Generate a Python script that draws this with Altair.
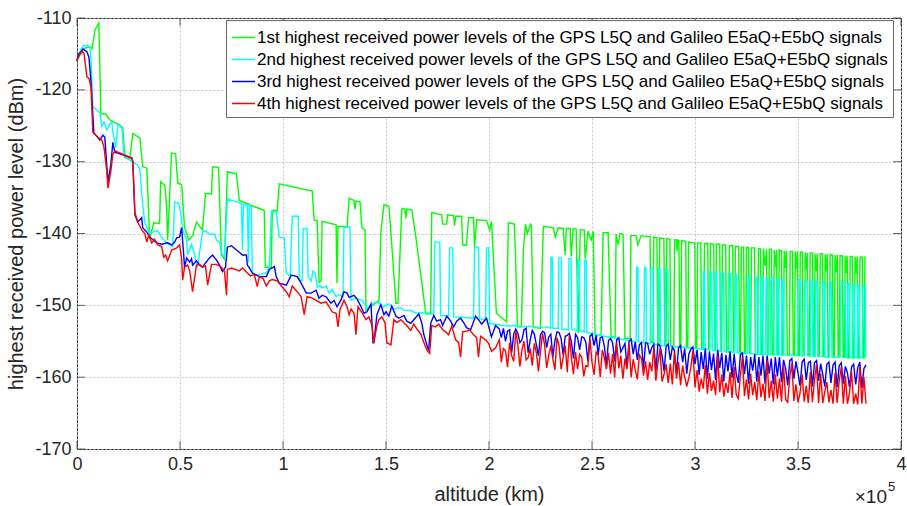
import altair as alt
import pandas as pd

# Series names and line colours
SERIES = [
    "1st highest received power levels of the GPS L5Q and Galileo E5aQ+E5bQ signals",
    "2nd highest received power levels of the GPS L5Q and Galileo E5aQ+E5bQ signals",
    "3rd highest received power levels of the GPS L5Q and Galileo E5aQ+E5bQ signals",
    "4th highest received power levels of the GPS L5Q and Galileo E5aQ+E5bQ signals",
]
COLORS = ["#00ff00", "#00ffff", "#0000ff", "#ff0000"]

X_TICKS = [0, 50000, 100000, 150000, 200000, 250000, 300000, 350000, 400000]
Y_TICKS = [-170, -160, -150, -140, -130, -120, -110]

# (altitude in thousands of km, received power in dBm)
GREEN = [
    (0.0, -116.0), (0.5, -115.4), (2.4, -114.6), (3.9, -114.2), (6.3, -114.0),
    (7.3, -114.3), (8.7, -111.7), (10.6, -110.7), (11.6, -123.3), (14.0, -123.4),
    (16.0, -124.2), (20.8, -124.9), (22.2, -125.3), (23.2, -129.4), (25.6, -129.6),
    (27.1, -126.1), (30.5, -126.7), (31.9, -130.7), (33.9, -130.9), (35.3, -140.8),
    (37.2, -138.5), (40.1, -138.6), (40.6, -132.8), (42.6, -133.3), (43.5, -136.2),
    (44.0, -140.9), (45.9, -128.8), (47.9, -128.9), (48.9, -133.0), (50.8, -133.2),
    (52.2, -139.1), (54.2, -140.9), (56.1, -140.3), (58.0, -138.4), (60.9, -139.5),
    (62.4, -134.4), (65.3, -134.5), (65.8, -130.7), (68.7, -130.8), (70.1, -143.0),
    (71.6, -143.6), (73.0, -131.4), (77.4, -131.7), (78.8, -135.4), (90.9, -136.8),
    (91.4, -144.7), (94.3, -144.7), (94.8, -136.8), (97.2, -136.8), (98.2, -133.1),
    (114.2, -134.1), (115.1, -138.1), (116.6, -138.2), (117.5, -146.8), (118.5, -146.6),
    (119.0, -138.3), (125.8, -138.8), (126.2, -146.9), (126.7, -139.0), (131.1, -139.1),
    (132.1, -135.1), (134.5, -135.4), (135.0, -136.6), (135.4, -135.5), (137.4, -135.6),
    (138.3, -139.2), (139.8, -139.5), (140.3, -150.7), (146.6, -149.3), (147.5, -139.9),
    (149.0, -136.0), (151.4, -136.2), (152.4, -139.9), (154.8, -149.7), (155.8, -149.7),
    (157.2, -139.9), (157.7, -136.5), (159.1, -136.6), (159.6, -137.9), (160.1, -136.6),
    (162.5, -136.7), (164.5, -140.5), (169.3, -151.1), (171.7, -151.1), (172.2, -137.1),
    (177.0, -137.4), (177.5, -138.7), (179.5, -138.7), (179.9, -137.4), (182.8, -137.5),
    (183.3, -138.9), (183.8, -137.6), (186.7, -137.6), (187.2, -141.6), (189.1, -141.6),
    (190.1, -137.8), (192.5, -137.8), (193.0, -141.9), (194.0, -138.1), (198.8, -138.2),
    (200.3, -139.5), (201.2, -138.3), (203.6, -151.1), (208.5, -152.3), (209.4, -138.5),
    (212.3, -138.7), (212.8, -142.3), (213.8, -153.0), (215.7, -153.0), (216.7, -142.3),
    (217.7, -138.7), (218.6, -140.0), (220.1, -138.7), (220.6, -138.9), (221.5, -153.0),
    (224.9, -153.2), (226.4, -139.0), (231.2, -139.2), (232.2, -140.5), (233.6, -139.2),
    (236.0, -139.3), (237.0, -143.0), (237.5, -139.3), (239.4, -139.3), (239.9, -143.2),
    (240.9, -139.3), (242.3, -139.4), (243.3, -153.9), (244.3, -139.5), (246.2, -139.5),
    (246.7, -143.5), (248.1, -139.7), (249.6, -140.9), (250.6, -139.7), (251.5, -154.2),
    (254.4, -154.2), (255.4, -139.9), (257.8, -139.9), (259.3, -154.4), (261.2, -154.4),
    (261.7, -140.1), (262.6, -141.5), (263.6, -140.0), (265.1, -140.1), (266.0, -154.6),
    (268.5, -154.6), (268.9, -140.3), (271.4, -140.3), (272.3, -141.6), (273.8, -140.3),
    (276.2, -140.4), (278.2, -140.4), (278.6, -155.1), (279.6, -155.2), (280.0, -140.5),
    (281.5, -140.6), (281.9, -155.4), (282.5, -155.5), (282.9, -140.6), (284.9, -140.7),
    (285.3, -155.6), (285.9, -155.6), (286.3, -140.7), (287.8, -140.8), (288.2, -155.7),
    (289.7, -155.8), (290.1, -140.9), (291.0, -140.9), (291.3, -142.5), (291.6, -140.9),
    (292.2, -141.0), (292.6, -155.8), (293.1, -155.8), (293.5, -141.0), (295.5, -141.1),
    (295.9, -155.9), (296.5, -155.9), (296.9, -141.2), (299.9, -141.3), (300.3, -156.0),
    (300.9, -156.0), (301.3, -141.3), (302.8, -141.3), (303.2, -156.1), (304.2, -156.1),
    (304.6, -141.4), (306.2, -141.4), (306.6, -156.2), (307.1, -156.2), (307.5, -141.4),
    (309.1, -141.5), (309.5, -156.3), (310.0, -156.3), (310.4, -141.5), (312.0, -141.5),
    (312.4, -156.4), (312.9, -156.4), (313.3, -141.6), (314.9, -141.6), (315.3, -156.5),
    (316.3, -156.5), (316.7, -141.7), (318.3, -141.7), (318.7, -156.6), (319.2, -156.6),
    (319.6, -141.8), (321.2, -141.8), (321.6, -156.6), (322.1, -156.6), (322.5, -141.9),
    (323.6, -141.9), (324.0, -156.7), (324.6, -156.7), (325.0, -141.9), (326.0, -142.0),
    (326.4, -156.7), (327.0, -156.7), (327.4, -142.0), (328.9, -142.0), (329.3, -156.8),
    (330.4, -156.8), (330.8, -142.1), (331.8, -142.1), (332.2, -156.8), (332.8, -156.8),
    (333.2, -142.1), (334.0, -144.5), (334.7, -142.2), (335.1, -156.8), (335.7, -156.8),
    (336.1, -142.2), (337.1, -142.2), (337.5, -156.9), (338.1, -156.9), (338.5, -142.3),
    (339.1, -144.6), (339.6, -142.3), (340.0, -156.9), (340.5, -156.9), (340.9, -142.3),
    (342.0, -142.4), (342.4, -156.9), (342.9, -156.9), (343.3, -142.4), (343.9, -144.8),
    (344.4, -142.4), (344.8, -156.9), (345.8, -156.9), (346.2, -142.5), (347.3, -142.5),
    (347.7, -157.0), (348.3, -157.0), (348.7, -142.5), (349.2, -144.9), (349.7, -142.5),
    (350.1, -157.0), (350.7, -157.0), (351.1, -142.6), (352.1, -142.6), (352.5, -157.0),
    (353.1, -157.0), (353.5, -142.6), (354.0, -145.0), (354.5, -142.7), (354.9, -157.0),
    (355.5, -157.0), (355.9, -142.7), (357.0, -142.7), (357.4, -157.1), (357.9, -157.1),
    (358.3, -142.8), (358.9, -145.2), (359.4, -142.8), (359.8, -157.1), (360.4, -157.1),
    (360.8, -142.8), (361.8, -142.8), (362.2, -157.1), (362.8, -157.1), (363.2, -142.9),
    (363.7, -145.3), (364.2, -142.9), (364.6, -157.2), (365.2, -157.2), (365.6, -142.9),
    (366.7, -143.0), (367.1, -157.2), (367.6, -157.2), (368.0, -143.0), (368.6, -145.4),
    (369.1, -143.0), (369.5, -157.2), (370.0, -157.2), (370.4, -143.1), (371.5, -143.1),
    (371.9, -157.2), (372.5, -157.2), (372.9, -143.1), (373.4, -145.5), (373.9, -143.1),
    (374.3, -157.3), (374.9, -157.3), (375.3, -143.2), (376.3, -143.2), (376.7, -157.3),
    (377.3, -157.3), (377.7, -143.2), (378.2, -145.6), (378.7, -143.2), (379.1, -157.3),
    (379.7, -157.3), (380.1, -143.3), (381.2, -143.3), (381.6, -157.3), (382.1, -157.3),
    (382.5, -143.3), (382.8, -143.3),
]

CYAN = [
    (0.0, -116.0), (0.5, -115.2), (2.9, -113.9), (5.3, -113.8), (6.3, -114.2),
    (6.8, -115.8), (7.7, -122.4), (9.7, -122.8), (11.1, -123.2), (12.1, -125.1),
    (13.1, -124.5), (14.5, -125.6), (16.0, -124.7), (16.9, -124.5), (17.4, -125.9),
    (18.9, -128.0), (19.8, -124.8), (21.8, -125.3), (22.7, -128.8), (23.7, -129.4),
    (25.6, -129.8), (28.1, -130.2), (29.5, -130.5), (30.5, -131.0), (31.4, -134.5),
    (32.9, -138.5), (35.3, -140.0), (37.7, -139.7), (39.2, -139.6), (41.1, -140.5),
    (43.0, -141.2), (45.0, -141.6), (46.5, -141.8), (47.4, -135.6), (49.3, -135.8),
    (50.3, -137.0), (51.3, -139.5), (53.2, -140.9), (53.7, -143.0), (55.6, -141.5),
    (57.1, -143.0), (58.5, -144.7), (60.9, -139.8), (62.4, -139.6), (64.3, -140.1),
    (66.8, -140.1), (67.7, -140.9), (69.2, -141.2), (70.1, -142.7), (71.6, -143.4),
    (73.0, -135.2), (77.4, -135.6), (79.8, -135.8), (80.3, -142.3), (80.8, -136.0),
    (82.7, -136.0), (83.2, -144.0), (83.7, -136.0), (84.6, -136.3), (85.1, -145.5),
    (87.1, -145.8), (91.9, -145.5), (93.4, -144.7), (94.3, -136.9), (96.7, -137.0),
    (98.2, -140.5), (100.6, -140.6), (101.6, -145.5), (103.5, -145.9), (104.5, -137.6),
    (107.4, -137.6), (107.9, -146.5), (109.3, -146.5), (109.8, -139.3), (111.7, -139.3),
    (112.2, -146.0), (113.7, -146.6), (114.6, -145.2), (115.6, -145.5), (116.6, -147.5),
    (118.0, -147.2), (119.0, -147.6), (120.9, -147.3), (122.4, -148.3), (123.8, -147.8),
    (125.8, -148.8), (127.2, -148.5), (128.2, -148.6), (129.1, -148.8), (129.6, -139.1),
    (132.5, -139.1), (133.0, -149.3), (135.4, -149.0), (138.3, -149.3), (140.8, -150.4),
    (144.6, -149.6), (146.6, -149.6), (148.0, -150.3), (151.4, -149.8), (153.8, -150.5),
    (156.7, -150.3), (158.7, -150.7), (162.0, -150.7), (164.5, -151.1), (167.4, -151.0),
    (169.8, -151.2), (173.2, -151.2), (173.7, -141.2), (176.1, -141.2), (176.5, -151.4),
    (180.4, -151.5), (180.9, -142.0), (182.4, -142.0), (182.8, -151.6), (188.1, -151.7),
    (192.5, -151.8), (193.0, -141.9), (194.9, -141.9), (195.4, -151.9), (198.3, -152.0),
    (198.8, -142.0), (199.8, -142.0), (200.3, -152.5), (204.6, -152.7), (208.0, -152.9),
    (212.0, -152.8), (216.0, -153.0), (220.0, -152.9), (224.0, -153.1), (228.0, -153.0),
    (229.8, -153.2), (230.1, -143.3), (230.7, -143.3), (231.0, -153.2), (233.6, -153.2),
    (233.9, -143.4), (235.1, -143.4), (235.4, -153.3), (238.5, -153.4), (238.8, -143.5),
    (239.9, -143.5), (240.2, -153.4), (242.8, -153.5), (243.1, -143.6), (243.8, -143.6),
    (244.1, -153.6), (246.2, -153.7), (246.5, -143.7), (247.2, -143.7), (247.5, -153.8),
    (250.0, -153.9), (254.0, -154.2), (258.0, -154.4), (262.0, -154.6), (266.0, -154.8),
    (271.4, -155.1), (271.7, -144.7), (272.3, -144.7), (272.6, -155.1), (275.2, -155.2),
    (275.5, -144.7), (276.2, -144.8), (276.5, -155.2), (278.2, -155.3), (278.5, -144.8),
    (279.6, -144.8), (279.9, -155.4), (282.0, -155.5), (282.3, -144.8), (283.0, -144.9),
    (283.3, -155.6), (285.4, -155.6), (285.7, -144.9), (286.8, -145.0), (287.1, -155.7),
    (292.0, -155.8), (297.0, -155.9), (303.8, -156.1), (304.1, -145.3), (304.7, -145.3),
    (305.0, -156.1), (307.1, -156.2), (307.4, -145.4), (308.1, -145.4), (308.4, -156.3),
    (309.6, -156.3), (309.9, -145.4), (310.5, -145.4), (310.8, -156.3), (312.5, -156.4),
    (312.8, -145.5), (313.9, -145.5), (314.2, -156.4), (315.9, -156.5), (316.2, -145.6),
    (317.3, -145.6), (317.6, -156.5), (319.2, -156.6), (319.5, -145.7), (320.2, -145.7),
    (320.5, -156.6), (325.5, -156.7), (325.8, -145.9), (326.5, -145.9), (326.8, -156.7),
    (329.4, -156.8), (329.7, -146.1), (330.4, -146.1), (330.7, -156.8), (331.8, -156.8),
    (332.1, -146.1), (332.8, -146.1), (333.1, -156.8), (334.2, -156.8), (334.5, -146.2),
    (335.2, -146.2), (335.5, -156.9), (336.6, -156.9), (336.9, -146.2), (338.1, -146.3),
    (338.4, -156.9), (339.6, -156.9), (339.9, -146.3), (340.5, -146.3), (340.8, -156.9),
    (342.0, -156.9), (342.3, -146.4), (342.9, -146.4), (343.2, -156.9), (349.7, -157.0),
    (350.0, -146.5), (351.2, -146.5), (351.5, -157.0), (353.1, -157.0), (353.4, -146.6),
    (354.5, -146.6), (354.8, -157.0), (356.0, -157.1), (356.3, -146.6), (357.0, -146.6),
    (357.3, -157.1), (358.4, -157.1), (358.7, -146.7), (359.4, -146.7), (359.7, -157.1),
    (361.8, -157.1), (362.1, -146.7), (362.8, -146.7), (363.1, -157.2), (365.2, -157.2),
    (365.5, -146.8), (366.2, -146.8), (366.5, -157.2), (370.5, -157.2), (370.8, -146.9),
    (372.9, -146.9), (373.2, -157.3), (373.9, -157.3), (374.2, -147.0), (374.9, -147.0),
    (375.2, -157.3), (376.3, -157.3), (376.6, -147.1), (377.3, -147.1), (377.6, -157.3),
    (378.7, -157.3), (379.0, -147.2), (379.7, -147.2), (380.0, -157.3), (381.2, -157.3),
    (381.5, -147.3), (382.6, -147.3), (382.8, -157.3),
]

BLUE_NEAR = [
    (0.0, -116.0), (0.5, -115.2), (2.9, -114.3), (4.8, -114.7), (5.8, -115.5),
    (6.8, -118.9), (8.2, -126.0), (9.7, -126.5), (11.1, -127.0), (12.6, -126.3),
    (13.5, -126.6), (15.0, -132.8), (16.4, -130.5), (17.4, -127.3), (18.4, -128.7),
    (19.8, -128.8), (26.6, -129.5), (27.1, -130.0), (28.1, -137.4), (29.5, -138.4),
    (31.4, -137.8), (31.9, -139.2), (33.9, -139.8), (35.3, -140.5), (38.7, -141.3),
    (41.1, -141.5), (44.0, -141.3), (46.0, -141.6), (47.4, -141.2), (48.4, -140.6),
    (49.8, -140.5), (50.8, -139.2), (51.8, -143.0), (52.2, -144.7), (53.2, -143.4),
    (54.7, -144.0), (55.6, -143.5), (56.1, -144.4), (58.0, -143.8), (59.5, -144.4),
    (60.9, -144.7), (62.4, -144.1), (64.3, -143.4), (65.8, -143.0), (67.7, -143.7),
    (69.2, -144.4), (70.6, -145.3), (72.1, -144.7), (73.0, -141.9), (75.0, -141.7),
    (77.4, -142.3), (78.8, -142.6), (80.3, -143.0), (82.2, -143.0), (82.7, -144.4),
    (83.7, -144.8), (85.1, -145.5), (88.5, -146.0), (91.9, -146.0), (93.4, -145.0),
    (94.8, -144.8), (95.8, -144.6), (96.7, -146.0), (98.2, -146.9), (101.6, -147.2),
    (104.0, -145.8), (106.9, -146.0), (108.8, -146.9), (111.3, -148.3), (113.7, -148.3),
    (116.1, -147.9), (117.5, -149.0), (119.0, -148.6), (120.9, -148.8), (123.3, -149.7),
    (124.8, -149.3), (126.2, -150.2), (128.2, -149.2), (129.6, -148.1), (131.1, -148.3),
    (132.1, -148.9), (134.5, -148.6), (135.9, -149.1), (137.9, -150.2), (139.3, -151.1),
    (140.8, -150.9), (142.7, -149.8), (143.7, -155.2), (144.1, -155.2), (145.6, -151.3),
    (147.5, -149.9), (149.0, -151.3), (150.0, -150.9), (151.4, -151.5), (152.8, -150.1),
    (154.8, -151.5), (156.2, -151.8), (158.7, -151.4), (160.1, -152.2), (162.0, -152.5),
    (163.5, -152.0), (165.9, -151.2), (167.4, -152.5), (168.3, -154.0), (169.8, -155.5),
    (170.7, -156.3), (171.7, -152.5), (173.2, -151.4), (174.6, -152.2), (176.5, -152.0),
    (177.5, -152.8), (179.5, -151.5), (181.4, -152.2), (182.8, -153.0), (184.3, -152.2),
    (186.2, -151.8), (187.7, -152.4), (189.1, -153.1), (191.1, -153.4), (193.5, -151.5),
    (194.9, -152.0), (196.4, -152.6), (198.8, -151.8), (201.2, -154.4), (203.2, -152.8),
]

RED_NEAR = [
    (0.0, -116.0), (0.5, -115.6), (2.4, -114.6), (3.4, -114.9), (4.8, -118.2),
    (5.8, -118.4), (6.8, -119.7), (7.7, -125.9), (10.2, -126.6), (12.1, -127.0),
    (13.1, -128.0), (14.5, -131.4), (15.0, -133.7), (16.4, -131.4), (17.4, -129.0),
    (18.4, -128.5), (26.6, -129.5), (27.1, -130.0), (28.1, -137.1), (29.5, -138.4),
    (31.4, -139.5), (32.9, -140.0), (33.9, -141.2), (34.8, -140.2), (36.3, -141.3),
    (37.7, -140.8), (39.2, -141.6), (41.1, -141.8), (42.1, -143.3), (43.0, -143.0),
    (44.0, -143.8), (46.0, -142.3), (48.4, -142.0), (49.8, -141.6), (50.8, -143.5),
    (51.3, -146.5), (52.2, -144.7), (53.7, -144.4), (54.7, -145.2), (56.1, -148.1),
    (58.0, -144.4), (59.5, -144.3), (60.9, -144.7), (62.4, -144.5), (63.4, -147.2),
    (65.3, -144.3), (67.7, -144.3), (70.1, -144.7), (71.6, -145.3), (72.6, -148.6),
    (73.0, -145.0), (75.0, -144.8), (78.8, -145.2), (80.3, -144.8), (82.7, -145.5),
    (84.2, -145.9), (86.1, -145.7), (87.5, -147.4), (88.5, -146.0), (90.4, -146.3),
    (91.9, -147.3), (93.4, -146.6), (94.8, -146.4), (97.2, -146.6), (99.2, -147.3),
    (101.6, -148.1), (103.0, -148.8), (104.5, -147.3), (106.9, -148.1), (108.8, -148.8),
    (110.3, -151.3), (111.7, -148.8), (114.2, -149.0), (116.1, -149.3), (118.5, -149.7),
    (120.9, -149.5), (122.4, -150.2), (123.8, -150.9), (125.8, -151.1), (126.7, -153.0),
    (127.7, -150.5), (128.7, -149.9), (129.6, -149.3), (131.1, -150.2), (132.1, -151.3),
    (133.0, -150.5), (134.5, -151.1), (135.4, -154.1), (136.4, -150.2), (138.3, -151.0),
    (140.3, -152.0), (141.7, -151.6), (143.2, -152.8), (144.1, -155.2), (145.6, -152.8),
    (146.6, -152.0), (148.0, -151.6), (149.5, -152.4), (150.4, -155.2), (152.4, -155.5),
    (153.8, -152.0), (155.3, -152.4), (157.2, -152.0), (159.2, -152.6), (160.1, -152.8),
    (162.0, -153.5), (163.5, -152.6), (165.0, -153.3), (166.9, -154.0), (168.3, -155.1),
    (169.8, -156.2), (171.2, -156.7), (172.2, -152.8), (174.1, -153.0), (175.6, -152.6),
    (177.5, -153.4), (179.0, -153.7), (180.4, -154.1), (181.9, -152.9), (183.8, -154.8),
    (185.3, -155.2), (186.2, -157.2), (187.2, -153.7), (189.1, -153.6), (190.6, -153.4),
    (192.5, -154.1), (194.0, -154.5), (194.9, -157.2), (195.9, -154.3), (198.3, -154.8),
    (199.8, -155.3), (201.2, -156.4), (203.2, -155.9),
]

# Far range: (altitude in thousands of km, 3rd highest dBm, 4th highest dBm)
FAR = [
    (205, -153.3, -154.8), (206, -154.5, -157.9), (207, -153.2, -156.0), (208, -155.0, -156.3),
    (209, -153.6, -158.6), (210, -153.4, -155.2), (211, -156.6, -157.0), (212, -154.0, -157.8),
    (213, -153.3, -153.6), (214, -153.9, -155.5), (215, -155.2, -158.5), (216, -154.8, -156.2),
    (217, -153.4, -155.0), (218, -153.2, -157.6), (219, -156.6, -157.3), (220, -154.8, -156.0),
    (221, -153.5, -158.4), (222, -154.0, -155.3), (223, -155.5, -156.6), (224, -157.0, -159.2),
    (225, -154.1, -156.5), (226, -153.6, -153.9), (227, -153.8, -155.5), (228, -155.9, -158.7),
    (229, -154.4, -157.0), (230, -154.0, -155.6), (231, -157.2, -157.5), (232, -154.9, -159.0),
    (233, -153.7, -154.5), (234, -153.8, -155.6), (235, -154.6, -158.9), (236, -156.9, -157.2),
    (237, -154.3, -155.6), (238, -154.2, -159.3), (239, -153.9, -154.2), (240, -155.1, -157.3),
    (241, -157.4, -159.6), (242, -154.0, -156.5), (243, -154.5, -158.9), (244, -156.2, -156.8),
    (245, -154.4, -157.2), (246, -154.5, -159.9), (247, -155.1, -158.4), (248, -157.8, -158.5),
    (249, -154.3, -154.7), (250, -154.0, -157.9), (251, -155.6, -159.7), (252, -154.2, -156.5),
    (253, -156.9, -157.0), (254, -154.5, -160.0), (255, -154.4, -156.2), (256, -155.7, -157.3),
    (257, -158.4, -158.9), (258, -154.9, -156.6), (259, -154.6, -159.5), (260, -155.2, -156.8),
    (261, -157.8, -160.0), (262, -154.8, -155.2), (263, -154.5, -158.8), (264, -156.5, -157.0),
    (265, -155.9, -160.2), (266, -155.3, -157.4), (267, -158.6, -158.9), (268, -155.0, -155.4),
    (269, -154.7, -160.0), (270, -156.8, -157.5), (271, -155.1, -159.0), (272, -157.6, -160.3),
    (273, -155.5, -156.9), (274, -155.2, -157.4), (275, -158.9, -159.8), (276, -155.2, -157.8),
    (277, -155.3, -160.4), (278, -156.8, -157.9), (279, -155.9, -159.2), (280, -155.4, -155.9),
    (281, -159.1, -160.5), (282, -155.4, -158.0), (283, -155.6, -156.0), (284, -157.0, -160.6),
    (285, -159.2, -159.6), (286, -155.7, -158.2), (287, -155.4, -160.8), (288, -157.6, -158.1),
    (289, -155.8, -161.0), (290, -156.3, -156.5), (291, -159.5, -160.2), (292, -155.9, -157.9),
    (293, -155.6, -161.1), (294, -157.9, -158.4), (295, -156.0, -160.0), (296, -159.5, -161.3),
    (297, -156.8, -160.1), (298, -156.1, -158.6), (299, -155.8, -156.3), (300, -158.2, -161.4),
    (301, -156.2, -159.0), (302, -159.7, -162.0), (303, -156.5, -160.2), (304, -158.9, -161.6),
    (305, -156.0, -158.3), (306, -160.2, -162.3), (307, -156.4, -159.4), (308, -159.0, -161.9),
    (309, -156.7, -160.5), (310, -160.4, -162.5), (311, -156.2, -157.0), (312, -158.7, -162.1),
    (313, -156.6, -159.6), (314, -160.6, -162.7), (315, -156.9, -160.8), (316, -159.2, -162.2),
    (317, -156.4, -159.3), (318, -160.1, -162.9), (319, -156.8, -158.6), (320, -159.5, -162.4),
    (321, -160.8, -163.0), (322, -156.9, -159.9), (323, -156.6, -157.2), (324, -159.6, -162.6),
    (325, -157.0, -160.3), (326, -160.9, -163.1), (327, -157.2, -159.5), (328, -159.1, -162.5),
    (329, -156.8, -160.7), (330, -160.6, -163.2), (331, -157.2, -159.2), (332, -159.8, -162.8),
    (333, -157.0, -160.9), (334, -160.9, -163.3), (335, -157.0, -157.6), (336, -159.5, -162.9),
    (337, -157.4, -160.5), (338, -161.0, -163.4), (339, -157.2, -159.6), (340, -159.9, -163.0),
    (341, -157.2, -160.2), (342, -160.7, -163.4), (343, -157.6, -158.4), (344, -158.8, -163.1),
    (345, -161.1, -163.5), (346, -157.7, -160.0), (347, -157.4, -158.1), (348, -160.2, -163.3),
    (349, -157.8, -161.0), (350, -159.4, -163.5), (351, -161.2, -162.2), (352, -157.9, -159.6),
    (353, -157.5, -163.4), (354, -160.4, -161.2), (355, -158.0, -163.6), (356, -157.8, -159.3),
    (357, -161.3, -163.5), (358, -158.0, -160.4), (359, -157.7, -158.2), (360, -160.5, -163.6),
    (361, -158.1, -159.5), (362, -159.6, -163.6), (363, -161.3, -162.0), (364, -158.2, -160.7),
    (365, -157.9, -163.5), (366, -160.8, -161.8), (367, -158.3, -163.7), (368, -157.9, -159.4),
    (369, -161.4, -163.6), (370, -158.4, -160.5), (371, -158.0, -158.6), (372, -160.9, -163.7),
    (373, -158.5, -159.8), (374, -159.4, -163.7), (375, -161.4, -162.2), (376, -158.6, -159.2),
    (377, -158.2, -163.7), (378, -161.0, -162.3), (379, -158.7, -163.8), (380, -157.9, -158.6),
    (381, -161.5, -163.7), (382, -158.8, -160.0), (383, -158.3, -163.7),
]

BLUE = BLUE_NEAR + [(a, b) for a, b, _ in FAR]
RED = RED_NEAR + [(a, r) for a, _, r in FAR]

rows = []
for name, pts in zip(SERIES, [GREEN, CYAN, BLUE, RED]):
    for i, (a, p) in enumerate(pts):
        rows.append({"series": name, "alt": a * 1000.0, "dbm": p, "seq": i})
df = pd.DataFrame(rows)

FONT = "Liberation Sans"
INK = "#262626"

x_scale = alt.Scale(domain=[0, 400000], nice=False, zero=False)
y_scale = alt.Scale(domain=[-170, -110], nice=False, zero=False)

x_axis = alt.Axis(
    values=X_TICKS, labelExpr="datum.value / 100000", labelFlush=False,
    labelOverlap=False, labelPadding=6, title="altitude (km)", titlePadding=11,
)
y_axis = alt.Axis(
    values=Y_TICKS, labelExpr="'' + datum.value", labelOverlap=False,
    labelPadding=6, title="highest received power level (dBm)", titlePadding=8,
)

color = alt.Color(
    "series:N",
    scale=alt.Scale(domain=SERIES, range=COLORS),
    legend=alt.Legend(
        title=None, orient="none", legendX=149, legendY=2,
        symbolType="stroke", symbolSize=529, symbolStrokeWidth=1.5,
        labelFont=FONT, labelFontSize=17, labelColor="#000000", labelLimit=900,
        labelOffset=1, padding=5, rowPadding=1, strokeColor="#6a6a6a",
        fillColor="#ffffff",
    ),
)

line_layers = []
for name in SERIES:
    line_layers.append(
        alt.Chart(df)
        .transform_filter(alt.datum.series == name)
        .mark_line(strokeWidth=1.4)
        .encode(
            x=alt.X("alt:Q", scale=x_scale, axis=x_axis),
            y=alt.Y("dbm:Q", scale=y_scale, axis=y_axis),
            color=color,
            order=alt.Order("seq:Q"),
        )
    )

xt = pd.DataFrame({"alt": X_TICKS})
yt = pd.DataFrame({"dbm": Y_TICKS})
tick_style = dict(size=8, thickness=1, color=INK)

bottom_ticks = alt.Chart(xt).mark_tick(orient="vertical", yOffset=-4, **tick_style).encode(
    x=alt.X("alt:Q", scale=x_scale, axis=x_axis), y=alt.datum(-170))
top_ticks = alt.Chart(xt).mark_tick(orient="vertical", yOffset=4, **tick_style).encode(
    x=alt.X("alt:Q", scale=x_scale, axis=x_axis), y=alt.datum(-110))
left_ticks = alt.Chart(yt).mark_tick(orient="horizontal", xOffset=4, **tick_style).encode(
    y=alt.Y("dbm:Q", scale=y_scale, axis=y_axis), x=alt.datum(0))
right_ticks = alt.Chart(yt).mark_tick(orient="horizontal", xOffset=-4, **tick_style).encode(
    y=alt.Y("dbm:Q", scale=y_scale, axis=y_axis), x=alt.datum(400000))

exp_base = alt.Chart(pd.DataFrame({"t": ["×10"]})).mark_text(
    align="right", baseline="alphabetic", dx=-14, dy=54, font=FONT,
    fontSize=19, color=INK,
).encode(x=alt.datum(400000), y=alt.datum(-170), text="t:N")
exp_power = alt.Chart(pd.DataFrame({"t": ["5"]})).mark_text(
    align="left", baseline="alphabetic", dx=-13, dy=42, font=FONT,
    fontSize=13, color=INK,
).encode(x=alt.datum(400000), y=alt.datum(-170), text="t:N")

chart = (
    alt.layer(*line_layers, bottom_ticks, top_ticks, left_ticks, right_ticks,
              exp_base, exp_power)
    .properties(
        width=824, height=431,
        autosize=alt.AutoSizeParams(type="none"),
        padding={"left": 77, "top": 18, "right": 6, "bottom": 57},
        background="#ffffff",
    )
    .configure_view(stroke=INK, strokeWidth=1)
    .configure_axis(
        domain=False, ticks=False, tickSize=0, grid=True,
        gridColor="#b8b8b8", gridDash=[2, 2], gridWidth=0.8,
        labelFont=FONT, labelFontSize=18, labelColor=INK,
        titleFont=FONT, titleFontSize=20, titleFontWeight="normal", titleColor=INK,
    )
)

chart.save("out.html", embed_options={"renderer": "svg", "actions": False})
